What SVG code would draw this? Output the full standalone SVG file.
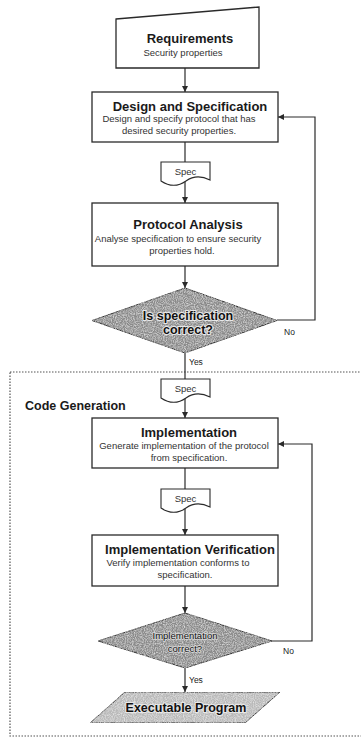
<svg xmlns="http://www.w3.org/2000/svg" width="361" height="740" viewBox="0 0 361 740">
<style>
  .box{fill:#fff;stroke:#2a2a2a;stroke-width:1.3}
  .doc{fill:#fff;stroke:#2a2a2a;stroke-width:1.1}
  .dia{fill:#8a8a8a;stroke:#333;stroke-width:1}
  .par{fill:#b9b9b9;stroke:#333;stroke-width:1}
  .edge{fill:none;stroke:#2a2a2a;stroke-width:1.2}
  .title{font-family:"Liberation Sans",Arial,sans-serif;font-weight:bold;font-size:13px;fill:#1a1a1a;text-anchor:middle}
  .sub{font-family:"Liberation Sans",Arial,sans-serif;font-size:9.5px;fill:#333;text-anchor:middle}
  .small{font-family:"Liberation Sans",Arial,sans-serif;font-size:8.5px;fill:#222}
  .dtext{font-family:"Liberation Sans",Arial,sans-serif;font-weight:bold;font-size:12.5px;fill:#111;text-anchor:middle;stroke:#e8e8e8;stroke-width:2;paint-order:stroke}
  .dtext2{font-family:"Liberation Sans",Arial,sans-serif;font-size:9.5px;fill:#111;text-anchor:middle;stroke:#d8d8d8;stroke-width:1.5;paint-order:stroke}
  .group{fill:none;stroke:#555;stroke-width:1.2;stroke-dasharray:1.5 1.5}
</style>
<defs>
  <marker id="arr" viewBox="0 0 8 8" refX="8" refY="4" markerWidth="6" markerHeight="6" orient="auto" markerUnits="userSpaceOnUse">
    <path d="M0,0 L8,4 L0,8 Z" fill="#2a2a2a"/>
  </marker>
  <filter id="grain" x="0" y="0" width="1" height="1">
    <feTurbulence type="fractalNoise" baseFrequency="0.9" numOctaves="2" seed="4" result="n"/>
    <feColorMatrix in="n" type="matrix" values="0 0 0 0 1  0 0 0 0 1  0 0 0 0 1  0 0 0 1.2 -0.45" result="w"/>
    <feComposite in="w" in2="SourceGraphic" operator="in" result="ws"/>
    <feMerge><feMergeNode in="SourceGraphic"/><feMergeNode in="ws"/></feMerge>
  </filter>
</defs>

<rect id="code-generation-group" class="group" x="10" y="372" width="360" height="364"/>
<text id="code-generation-label" x="25" y="409.5" font-family="Liberation Sans, Arial, sans-serif" font-weight="bold" font-size="12.5" fill="#1a1a1a">Code Generation</text>

<g id="connectors">
  <line class="edge" x1="185" y1="68" x2="185" y2="92" marker-end="url(#arr)"/>
  <line class="edge" x1="185" y1="142" x2="185" y2="162"/>
  <line class="edge" x1="185" y1="181" x2="185" y2="203" marker-end="url(#arr)"/>
  <line class="edge" x1="185" y1="266" x2="185" y2="288" marker-end="url(#arr)"/>
  <polyline class="edge" points="277,320 315,320 315,117 278,117" marker-end="url(#arr)"/>
  <line class="edge" x1="185" y1="353" x2="185" y2="379"/>
  <line class="edge" x1="185" y1="398" x2="185" y2="418" marker-end="url(#arr)"/>
  <line class="edge" x1="185" y1="468" x2="185" y2="489"/>
  <line class="edge" x1="185" y1="508" x2="185" y2="535" marker-end="url(#arr)"/>
  <line class="edge" x1="185" y1="586" x2="185" y2="613" marker-end="url(#arr)"/>
  <polyline class="edge" points="272,641 312,641 312,444 278,444" marker-end="url(#arr)"/>
  <line class="edge" x1="185" y1="668" x2="185" y2="692" marker-end="url(#arr)"/>
  <text class="small" x="284" y="335">No</text>
  <text class="small" x="189" y="365">Yes</text>
  <text class="small" x="283" y="654">No</text>
  <text class="small" x="189" y="683">Yes</text>
</g>

<g id="requirements">
  <polygon class="box" points="116,19 259,7 259,68 116,68"/>
  <text class="title" x="190" y="42.5">Requirements</text>
  <text class="sub" x="183" y="55.5">Security properties</text>
</g>

<g id="design-spec">
  <rect class="box" x="92" y="92" width="186" height="50"/>
  <text class="title" x="190" y="110.5">Design and Specification</text>
  <text class="sub" x="179" y="121.5">Design and specify protocol that has</text>
  <text class="sub" x="179" y="134">desired security properties.</text>
</g>

<g id="spec-1">
  <path class="doc" d="M161,162 H210 V180 C202,176 193,176 186,181 C179,186 170,187 161,181 Z"/>
  <text class="sub" x="185.5" y="175">Spec</text>
</g>

<g id="protocol-analysis">
  <rect class="box" x="92" y="203" width="186" height="63"/>
  <text class="title" x="188" y="228.5">Protocol Analysis</text>
  <text class="sub" x="178" y="241.5">Analyse specification to ensure security</text>
  <text class="sub" x="182" y="254">properties hold.</text>
</g>

<g id="spec-correct">
  <polygon class="dia" filter="url(#grain)" points="185,288 277,320.5 185,353 92,320.5"/>
  <text class="dtext" x="188" y="319.5">Is specification</text>
  <text class="dtext" x="188" y="333.5">correct?</text>
</g>

<g id="spec-2">
  <path class="doc" d="M161,379 H210 V397 C202,393 193,393 186,398 C179,403 170,404 161,398 Z"/>
  <text class="sub" x="185.5" y="392">Spec</text>
</g>

<g id="implementation">
  <rect class="box" x="92" y="418" width="186" height="50"/>
  <text class="title" x="189" y="436.5">Implementation</text>
  <text class="sub" x="184" y="448.5">Generate implementation of the protocol</text>
  <text class="sub" x="189" y="460.5">from specification.</text>
</g>

<g id="spec-3">
  <path class="doc" d="M161,489 H210 V507 C202,503 193,503 186,508 C179,513 170,514 161,508 Z"/>
  <text class="sub" x="185.5" y="502">Spec</text>
</g>

<g id="impl-verification">
  <rect class="box" x="92" y="535" width="186" height="51"/>
  <text class="title" x="190" y="553.5" font-size="12.5">Implementation Verification</text>
  <text class="sub" x="178" y="565.5">Verify implementation conforms to</text>
  <text class="sub" x="185" y="578">specification.</text>
</g>

<g id="impl-correct">
  <polygon class="dia" filter="url(#grain)" points="185,613 272,641 185,668 98,641"/>
  <text class="dtext2" x="185" y="638.5">Implementation</text>
  <text class="dtext2" x="185" y="651.5">correct?</text>
</g>

<g id="executable-program">
  <polygon class="par" filter="url(#grain)" points="125,692 280,692 245,723 90,723"/>
  <text class="dtext" x="186" y="712" font-size="13">Executable Program</text>
</g>
</svg>
